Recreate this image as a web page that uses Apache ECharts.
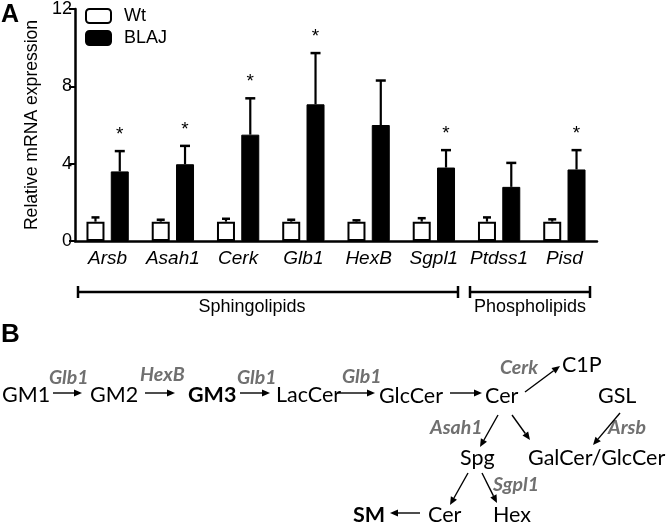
<!DOCTYPE html>
<html>
<head>
<meta charset="utf-8">
<script src="https://cdn.jsdelivr.net/npm/echarts@6/dist/echarts.min.js"></script>
<style>
  html, body { margin: 0; padding: 0; background: #fff; }
  #main { width: 667px; height: 525px; }
</style>
</head>
<body>
<div id="main"></div>
<script>
// genes on the x axis
var genes = ['Arsb', 'Asah1', 'Cerk', 'Glb1', 'HexB', 'Sgpl1', 'Ptdss1', 'Pisd'];
// mean relative expression and upper error (SEM)
var wtMean = [1, 1, 1, 1, 1, 1, 1, 1];
var wtErr = [0.22, 0.1, 0.15, 0.1, 0.07, 0.18, 0.22, 0.12];
var blajMean = [3.6, 3.97, 5.5, 7.07, 6.0, 3.8, 2.8, 3.7];
var blajErr = [1.05, 0.95, 1.88, 2.65, 2.3, 0.9, 1.24, 1.0];
// significance stars (1 = *)
var sig = [1, 1, 1, 1, 0, 1, 0, 1];
var yTicks = [0, 4, 8, 12];

var BAR_W = 18, GAP = 0.35;
var OFF = BAR_W * (1 + GAP) / 2;

var font = 'Liberation Sans, Arial, sans-serif';
var pfont = 'Lato, Open Sans, sans-serif';

function errItem(sign, cap) {
    return function (params, api) {
        var i = api.value(0);
        var base = api.coord([i, api.value(1)]);
        var top = api.coord([i, api.value(1) + api.value(2)]);
        var x = base[0] + sign * OFF;
        return {
            type: 'group',
            children: [
                {type: 'line', shape: {x1: x, y1: base[1], x2: x, y2: top[1]}, style: {stroke: '#000', lineWidth: 2.2}},
                {type: 'line', shape: {x1: x - cap / 2, y1: top[1], x2: x + cap / 2, y2: top[1]}, style: {stroke: '#000', lineWidth: 2.5}}
            ]
        };
    };
}

var wtErrData = genes.map(function (g, i) { return [i, wtMean[i], wtErr[i]]; });
var blajErrData = genes.map(function (g, i) { return [i, blajMean[i], blajErr[i]]; });
var starData = [];
genes.forEach(function (g, i) {
    if (sig[i]) starData.push([i, blajMean[i] + blajErr[i]]);
});

// pathway diagram (panel B)
var gray = '#707070';
function node(txt, x, y, bold) {
    return {type: 'text', x: x, y: y, style: {text: txt, fill: '#000', font: (bold ? 'bold ' : '') + '21.5px ' + pfont, textVerticalAlign: 'middle'}};
}
function enz(txt, x, y) {
    return {type: 'text', x: x, y: y, style: {text: txt, fill: gray, font: 'italic bold 19.5px ' + pfont, textVerticalAlign: 'middle'}};
}
function arrow(x1, y1, x2, y2) {
    var a = Math.atan2(y2 - y1, x2 - x1), L = 8, W = 3.5;
    var bx = x2 - L * Math.cos(a), by = y2 - L * Math.sin(a);
    var px = -Math.sin(a) * W, py = Math.cos(a) * W;
    return [
        {type: 'line', shape: {x1: x1, y1: y1, x2: bx, y2: by}, style: {stroke: '#000', lineWidth: 1.4}},
        {type: 'polygon', shape: {points: [[x2, y2], [bx + px, by + py], [bx - px, by - py]]}, style: {fill: '#000'}}
    ];
}
function bracket(x1, x2, y) {
    return [
        {type: 'line', shape: {x1: x1, y1: y, x2: x2, y2: y}, style: {stroke: '#000', lineWidth: 2.5}},
        {type: 'line', shape: {x1: x1, y1: y - 6, x2: x1, y2: y + 6}, style: {stroke: '#000', lineWidth: 2.5}},
        {type: 'line', shape: {x1: x2, y1: y - 6, x2: x2, y2: y + 6}, style: {stroke: '#000', lineWidth: 2.5}}
    ];
}

var graphics = [
    {type: 'text', x: 1, y: 3, style: {text: 'A', fill: '#000', font: 'bold 25px ' + font}},
    {type: 'text', x: 1, y: 322, style: {text: 'B', fill: '#000', font: 'bold 26px ' + font}},
    {type: 'text', x: 252, y: 307, style: {text: 'Sphingolipids', fill: '#000', font: '18px ' + font, textAlign: 'center', textVerticalAlign: 'middle'}},
    {type: 'text', x: 530, y: 307, style: {text: 'Phospholipids', fill: '#000', font: '18px ' + font, textAlign: 'center', textVerticalAlign: 'middle'}},
    node('GM1', 2, 395), enz('Glb1', 49, 378),
    node('GM2', 90, 395), enz('HexB', 140, 375),
    node('GM3', 188, 395, true), enz('Glb1', 237, 378),
    node('LacCer', 276, 395), enz('Glb1', 342, 377),
    node('GlcCer', 379, 396),
    node('Cer', 485, 396), enz('Cerk', 500, 368),
    node('C1P', 562, 365),
    node('GSL', 598, 396), enz('Arsb', 608, 428),
    enz('Asah1', 430, 428),
    node('Spg', 460, 458), node('GalCer/GlcCer', 528, 458),
    enz('Sgpl1', 493, 485),
    node('SM', 353, 515, true), node('Cer', 428, 515), node('Hex', 493, 515)
];
graphics = graphics
    .concat(bracket(78, 458, 292))
    .concat(bracket(470, 590, 292))
    .concat(arrow(53, 393, 82, 393))
    .concat(arrow(145, 393, 175, 393))
    .concat(arrow(240, 393, 270, 393))
    .concat(arrow(337, 393, 375, 393))
    .concat(arrow(450, 393, 482, 393))
    .concat(arrow(525, 392, 560, 366))
    .concat(arrow(620, 413, 593, 445))
    .concat(arrow(498, 415, 480, 447))
    .concat(arrow(512, 415, 530, 440))
    .concat(arrow(468, 473, 450, 505))
    .concat(arrow(482, 473, 497, 503))
    .concat(arrow(420, 513, 390, 513));

var chart = echarts.init(document.getElementById('main'));
chart.setOption({
    animation: false,
    backgroundColor: '#fff',
    grid: {left: 75, right: 70, top: 8, bottom: 284},
    legend: {
        data: ['Wt', 'BLAJ'],
        orient: 'vertical', left: 80, top: 2,
        itemWidth: 25, itemHeight: 14, itemGap: 4,
        textStyle: {fontSize: 18, fontFamily: font, color: '#000', padding: [0, 0, 0, 8]}
    },
    xAxis: {
        type: 'category',
        data: genes,
        axisLine: {lineStyle: {color: '#000', width: 2.5}},
        axisTick: {alignWithLabel: true, length: 6, lineStyle: {color: '#000', width: 2}},
        axisLabel: {interval: 0, fontSize: 19, fontStyle: 'italic', fontFamily: font, color: '#000', margin: 8}
    },
    yAxis: {
        type: 'value', min: 0, max: 12, interval: 4,
        name: 'Relative mRNA expression', nameLocation: 'middle', nameGap: 31,
        nameTextStyle: {fontSize: 17.6, fontFamily: font, color: '#000'},
        axisLine: {show: true, lineStyle: {color: '#000', width: 2.5}},
        axisTick: {show: true, length: 6, lineStyle: {color: '#000', width: 2}},
        axisLabel: {fontSize: 18, fontFamily: font, color: '#000', margin: 3,
            formatter: function (v) { return yTicks.indexOf(v) >= 0 ? v : ''; }},
        splitLine: {show: false}
    },
    series: [
        {name: 'Wt', type: 'bar', data: wtMean, barWidth: BAR_W, barGap: (GAP * 100) + '%',
            itemStyle: {color: '#fff', borderColor: '#000', borderWidth: 2}},
        {name: 'BLAJ', type: 'bar', data: blajMean, barWidth: BAR_W,
            itemStyle: {color: '#000', borderColor: '#000', borderWidth: 1}},
        {type: 'custom', renderItem: errItem(-1, 8), data: wtErrData, z: 3},
        {type: 'custom', renderItem: errItem(1, 10), data: blajErrData, z: 3},
        {type: 'custom', z: 3, data: starData,
            renderItem: function (params, api) {
                var p = api.coord([api.value(0), api.value(1)]);
                return {type: 'text', x: p[0] + OFF, y: p[1] - 7,
                    style: {text: '*', fill: '#000', font: '19px ' + font, textAlign: 'center', textVerticalAlign: 'bottom'}};
            }}
    ],
    graphic: graphics
});
</script>
</body>
</html>
